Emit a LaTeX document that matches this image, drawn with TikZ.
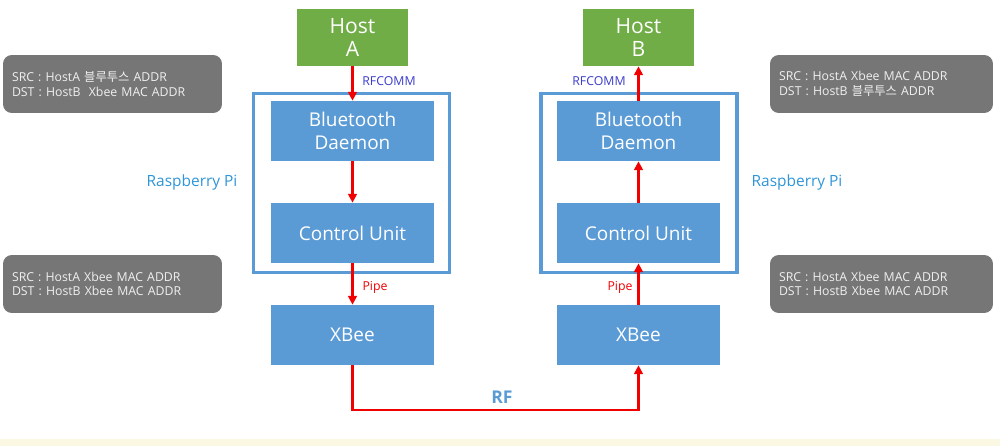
\documentclass[tikz,border=0pt]{standalone}
\usepackage{fontspec}
\setmainfont{Open Sans}
\newfontfamily\kr{Noto Sans CJK KR}
\usetikzlibrary{arrows.meta}
\definecolor{hostgreen}{HTML}{70AD47}
\definecolor{boxblue}{HTML}{5B9BD5}
\definecolor{pigray}{HTML}{767676}
\definecolor{labblue}{HTML}{2E95D8}
\definecolor{rfcol}{HTML}{3A3ACC}
\definecolor{arred}{HTML}{F00000}
\definecolor{bandyel}{HTML}{FAF7E2}
\definecolor{graytext}{HTML}{F0F0F0}
\tikzset{
  hostbox/.style={rectangle, fill=hostgreen, text=white, minimum width=2.22cm, minimum height=1.14cm, inner sep=0pt, align=center, font=\fontsize{12}{13.5}\selectfont},
  blk/.style={rectangle, fill=boxblue, text=white, minimum width=3.26cm, minimum height=1.2cm, inner sep=0pt, align=center, font=\fontsize{10.8}{13}\selectfont},
  pibox/.style={rectangle, draw=boxblue, line width=1.8pt, minimum width=3.92cm, minimum height=3.58cm, inner sep=0pt},
  infobox/.style={rectangle, rounded corners=5pt, fill=pigray, text=graytext, minimum height=1.16cm, inner xsep=0.18cm, align=left, font=\fontsize{7}{8.4}\selectfont},
  arr/.style={draw=arred, line width=1.2pt, -{Triangle[length=5pt,width=5pt]}},
  smalllab/.style={font=\fontsize{7}{8}\selectfont, inner sep=1pt},
  pilab/.style={text=labblue, font=\fontsize{8.8}{10}\selectfont, inner sep=1pt}
}
\begin{document}
\begin{tikzpicture}[x=0.02cm, y=-0.02cm]
\useasboundingbox (0,0) rectangle (1000,446);
\fill[bandyel] (0,439) rectangle (1000,446);
% Raspberry Pi frames
\node[pibox] (piA) at (351.5,183) {};
\node[pibox] (piB) at (639,183) {};
% hosts
\node[hostbox] (hostA) at (352.5,37.5) {Host\\A};
\node[hostbox] (hostB) at (638.5,37.5) {Host\\B};
% blocks
\node[blk] (btA) at (352.5,131) {Bluetooth\\Daemon};
\node[blk] (cuA) at (352.5,233) {Control Unit};
\node[blk] (xbA) at (352.5,335) {XBee};
\node[blk] (btB) at (638.5,131) {Bluetooth\\Daemon};
\node[blk] (cuB) at (638.5,233) {Control Unit};
\node[blk] (xbB) at (638.5,335) {XBee};
% info boxes
\node[infobox, text width=4.02cm] (iA1) at (112.5,84) {SRC : HostA {\kr 블루투스} ADDR\\DST : HostB\ \ Xbee MAC ADDR};
\node[infobox, text width=4.02cm] (iA2) at (112.5,284) {SRC : HostA Xbee MAC ADDR\\DST : HostB Xbee MAC ADDR};
\node[infobox, text width=4.1cm] (iB1) at (881.5,84) {SRC : HostA Xbee MAC ADDR\\DST : HostB {\kr 블루투스} ADDR};
\node[infobox, text width=4.1cm] (iB2) at (881.5,284) {SRC : HostA Xbee MAC ADDR\\DST : HostB Xbee MAC ADDR};
% labels
\node[pilab] (lpA) at (192,182) {Raspberry Pi};
\node[pilab] (lpB) at (797,182) {Raspberry Pi};
\node[smalllab, text=rfcol] (rfcA) at (389,81) {RFCOMM};
\node[smalllab, text=rfcol] (rfcB) at (599,81) {RFCOMM};
\node[smalllab, text=arred] (pipeA) at (375,287) {Pipe};
\node[smalllab, text=arred] (pipeB) at (620,287) {Pipe};
\node[text=boxblue, font=\bfseries\fontsize{10}{12}\selectfont, inner sep=1pt] (rf) at (502,397) {RF};
% arrows
\draw[arr] (hostA.south) -- (btA.north);
\draw[arr] (btA.south) -- (cuA.north);
\draw[arr] (cuA.south) -- (xbA.north);
\draw[arr] (btB.north) -- (hostB.south);
\draw[arr] (cuB.north) -- (btB.south);
\draw[arr] (xbB.north) -- (cuB.south);
\coordinate (rfy) at (0,410);
\draw[arr] (xbA.south) -- (xbA.south |- rfy) -| (xbB.south);
\end{tikzpicture}
\end{document}
